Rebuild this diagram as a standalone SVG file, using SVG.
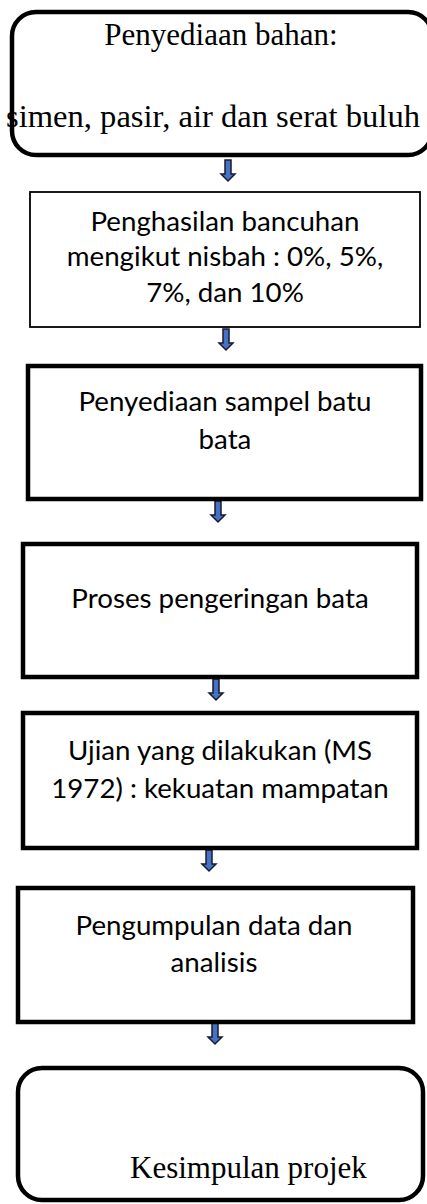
<svg xmlns="http://www.w3.org/2000/svg" width="427" height="1204" viewBox="0 0 427 1204">
<defs>
<style>
.thick{fill:#fff;stroke:#000;stroke-width:4.5}
.thin{fill:#fff;stroke:#000;stroke-width:1.8}
.serif{font-family:"Liberation Serif","Times New Roman",serif;font-size:31px;fill:#000}
.sans{font-family:Lato,"Open Sans",sans-serif;font-size:27.7px;fill:#000}
.arr{fill:#4472C4;stroke:#1a1a2e;stroke-width:1.5;stroke-linejoin:miter}
</style>
<path id="dn" d="M-3,0 h6 v14 h4 l-7,7 l-7,-7 h4 z"/>
</defs>
<rect width="427" height="1204" fill="#fff"/>
<g id="connectors">
<use href="#dn" class="arr" x="228" y="160"/>
<use href="#dn" class="arr" x="226" y="329"/>
<use href="#dn" class="arr" x="218" y="501"/>
<use href="#dn" class="arr" x="216" y="679"/>
<use href="#dn" class="arr" x="209" y="850"/>
<use href="#dn" class="arr" x="215" y="1023"/>
</g>
<g id="n1">
<rect class="thick" x="12" y="12" width="420" height="143" rx="24"/>
<text class="serif" x="221" y="45" text-anchor="middle">Penyediaan bahan:</text>
<text class="serif" x="213" y="127" text-anchor="middle" style="font-size:32.6px">simen, pasir, air dan serat buluh</text>
</g>
<g id="n2">
<rect class="thin" x="30" y="192" width="390" height="135"/>
<text class="sans" x="225" y="231" text-anchor="middle">Penghasilan bancuhan</text>
<text class="sans" x="225" y="266" text-anchor="middle">mengikut nisbah : 0%, 5%,</text>
<text class="sans" x="225" y="302" text-anchor="middle">7%, dan 10%</text>
</g>
<g id="n3">
<rect class="thick" x="28" y="366" width="393" height="133"/>
<text class="sans" x="225" y="411" text-anchor="middle">Penyediaan sampel batu</text>
<text class="sans" x="225" y="449" text-anchor="middle">bata</text>
</g>
<g id="n4">
<rect class="thick" x="23" y="544" width="394" height="133"/>
<text class="sans" x="220" y="608" text-anchor="middle">Proses pengeringan bata</text>
</g>
<g id="n5">
<rect class="thick" x="23" y="713" width="394" height="135"/>
<text class="sans" x="220" y="760" text-anchor="middle">Ujian yang dilakukan (MS</text>
<text class="sans" x="220" y="798" text-anchor="middle">1972) : kekuatan mampatan</text>
</g>
<g id="n6">
<rect class="thick" x="18" y="888" width="395" height="134"/>
<text class="sans" x="214" y="935" text-anchor="middle">Pengumpulan data dan</text>
<text class="sans" x="214" y="972" text-anchor="middle">analisis</text>
</g>
<g id="n7">
<rect class="thick" x="18" y="1068" width="405" height="132" rx="24"/>
<text class="serif" x="130" y="1178">Kesimpulan projek</text>
</g>
</svg>
